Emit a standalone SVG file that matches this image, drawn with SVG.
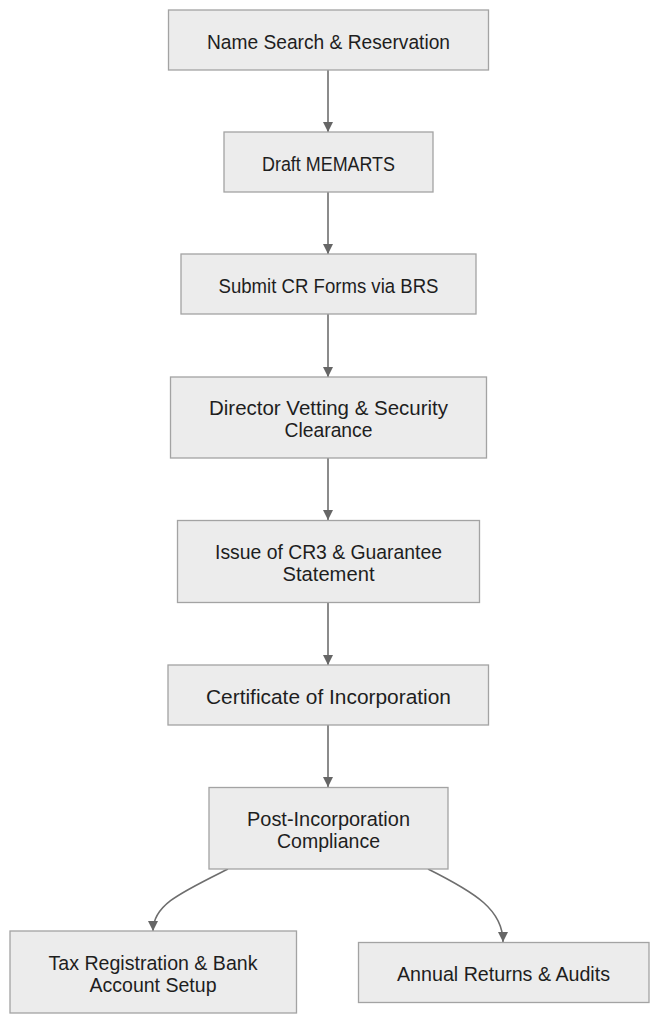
<svg xmlns="http://www.w3.org/2000/svg" width="659" height="1024" viewBox="0 0 659 1024">
<defs>
<marker id="arrow" viewBox="0 0 10 10" refX="10" refY="5" markerWidth="10" markerHeight="10" markerUnits="userSpaceOnUse" orient="auto">
<path d="M0,0 L10,5 L0,10 z" fill="#666666"/>
</marker>
<style>
.node rect{fill:#ECECEC;stroke:#A3A3A3;stroke-width:1.3}
.node text{font-family:"Liberation Sans",Arial,sans-serif;font-size:20.5px;fill:#1E1E1E;text-anchor:middle}
.edge{fill:none;stroke:#6E6E6E;stroke-width:1.6;marker-end:url(#arrow)}
</style>
</defs>
<rect width="659" height="1024" fill="#FFFFFF"/>
<g id="connectors">
<path class="edge" d="M328,70 L328,132"/>
<path class="edge" d="M328,192 L328,254"/>
<path class="edge" d="M328,314 L328,377"/>
<path class="edge" d="M328,458 L328,520"/>
<path class="edge" d="M328,602 L328,665"/>
<path class="edge" d="M328,725 L328,787"/>
<path class="edge" d="M228,869 C180,893 153,905 153,931"/>
<path class="edge" d="M428,869 C476,893 503,910 503,942"/>
</g>
<g id="n1" class="node"><rect x="168.5" y="10" width="320" height="60"/><text x="328.5" y="48.5" textLength="243" lengthAdjust="spacingAndGlyphs">Name Search &amp; Reservation</text></g>
<g id="n2" class="node"><rect x="224" y="132" width="209" height="60"/><text x="328.5" y="170.5" textLength="133" lengthAdjust="spacingAndGlyphs">Draft MEMARTS</text></g>
<g id="n3" class="node"><rect x="181" y="254" width="295" height="60"/><text x="328.5" y="292.5" textLength="220" lengthAdjust="spacingAndGlyphs">Submit CR Forms via BRS</text></g>
<g id="n4" class="node"><rect x="170.5" y="377" width="316" height="81"/><text x="328.5" y="415" textLength="239" lengthAdjust="spacingAndGlyphs">Director Vetting &amp; Security</text><text x="328.5" y="437" textLength="88" lengthAdjust="spacingAndGlyphs">Clearance</text></g>
<g id="n5" class="node"><rect x="177.5" y="520.5" width="302" height="82"/><text x="328.5" y="559" textLength="227" lengthAdjust="spacingAndGlyphs">Issue of CR3 &amp; Guarantee</text><text x="328.5" y="581" textLength="92" lengthAdjust="spacingAndGlyphs">Statement</text></g>
<g id="n6" class="node"><rect x="168" y="665" width="320.5" height="60"/><text x="328.5" y="703.5" textLength="245" lengthAdjust="spacingAndGlyphs">Certificate of Incorporation</text></g>
<g id="n7" class="node"><rect x="209" y="787.5" width="239" height="81.5"/><text x="328.5" y="825.5" textLength="163" lengthAdjust="spacingAndGlyphs">Post-Incorporation</text><text x="328.5" y="847.5" textLength="103" lengthAdjust="spacingAndGlyphs">Compliance</text></g>
<g id="n8" class="node"><rect x="10" y="931" width="286.5" height="82"/><text x="153" y="969.5" textLength="209" lengthAdjust="spacingAndGlyphs">Tax Registration &amp; Bank</text><text x="153" y="991.5" textLength="127" lengthAdjust="spacingAndGlyphs">Account Setup</text></g>
<g id="n9" class="node"><rect x="358.5" y="942.5" width="290.5" height="60"/><text x="503.5" y="981" textLength="213" lengthAdjust="spacingAndGlyphs">Annual Returns &amp; Audits</text></g>
</svg>
